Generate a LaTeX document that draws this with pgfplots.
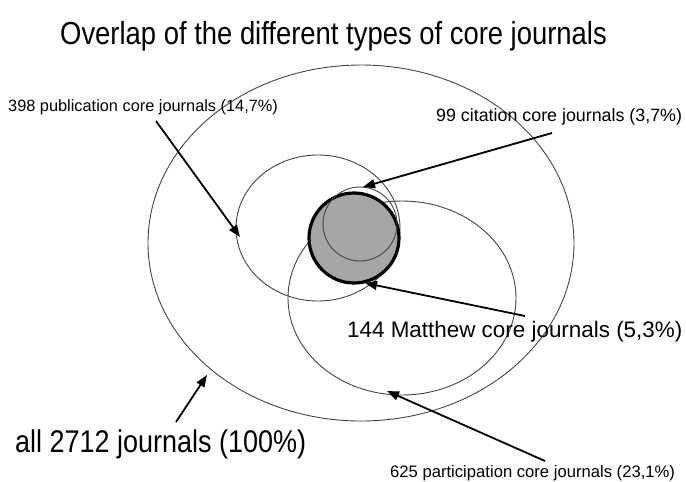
\documentclass[border=0pt]{standalone}
\usepackage{pgfplots}
\pgfplotsset{compat=1.18}
\usepackage{fontspec}
\setmainfont{Liberation Sans}
\newfontfamily\cond[FakeStretch=0.86]{Liberation Sans}
\usetikzlibrary{arrows.meta}

\definecolor{ring}{HTML}{444444}
\definecolor{matfill}{HTML}{A6A6A6}

\begin{document}
\begin{tikzpicture}
\useasboundingbox (0,0) rectangle (686bp,482bp);
\begin{axis}[
    at={(0,0)}, anchor=south west,
    hide axis, scale only axis, clip=false,
    width=686bp, height=482bp,
    xmin=0, xmax=686, ymin=0, ymax=482,
    y dir=reverse,
    ]

% circles (pixel coords, y down)
\draw[ring, line width=0.9bp] (axis cs:361,243) ellipse [x radius=213, y radius=178]; % all
\draw[ring, line width=0.9bp] (axis cs:318,228) ellipse [x radius=82, y radius=73];   % publication
\draw[ring, line width=0.9bp] (axis cs:402,298) ellipse [x radius=114, y radius=97];  % participation
\draw[black, line width=3.2bp, fill=matfill] (axis cs:354,238) ellipse [x radius=45, y radius=45]; % Matthew
\draw[ring, line width=0.9bp] (axis cs:360,224) ellipse [x radius=37, y radius=37];   % citation

% arrows
\pgfplotsset{arr/.style={black, line width=1.8bp, -{Triangle[length=12bp,width=9bp]}}}
\addplot[arr] coordinates {(156,121) (240,237)};
\addplot[arr] coordinates {(552,133) (363,187)};
\addplot[arr] coordinates {(525,316) (365,283)};
\addplot[arr] coordinates {(176,422) (207,375)};
\addplot[arr] coordinates {(545,461) (387,391)};

% labels
\node[anchor=base west, inner sep=0pt, font=\cond\fontsize{32}{36}\selectfont] at (axis cs:60,44) {Overlap of the different types of core journals};
\node[anchor=base west, inner sep=0pt, font=\fontsize{16.4}{18}\selectfont] at (axis cs:8,111) {398 publication core journals (14,7\%)};
\node[anchor=base west, inner sep=0pt, font=\fontsize{17.9}{20}\selectfont] at (axis cs:436,121) {99 citation core journals (3,7\%)};
\node[anchor=base west, inner sep=0pt, font=\fontsize{22.5}{25}\selectfont] at (axis cs:347,337) {144 Matthew core journals (5,3\%)};
\node[anchor=base west, inner sep=0pt, font=\cond\fontsize{31.5}{34}\selectfont] at (axis cs:15,452) {all 2712 journals (100\%)};
\node[anchor=base west, inner sep=0pt, font=\fontsize{16.7}{18}\selectfont] at (axis cs:390,477) {625 participation core journals (23,1\%)};
\end{axis}
\end{tikzpicture}
\end{document}
